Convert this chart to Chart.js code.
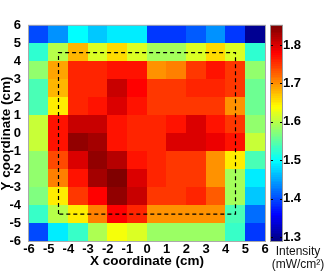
<!DOCTYPE html>
<html>
<head>
<meta charset="utf-8">
<script src="https://cdn.jsdelivr.net/npm/chart.js@4"></script>
<style>
  html, body { margin: 0; padding: 0; background: #fff; }
</style>
</head>
<body>
<canvas id="heatChart" width="327" height="272"></canvas>
<script>
// cell centres (cm), rows go from top (y = 5.5) to bottom (y = -5.5)
const xCenters = [-5.5, -4.5, -3.5, -2.5, -1.5, -0.5, 0.5, 1.5, 2.5, 3.5, 4.5, 5.5];
const yCenters = [5.5, 4.5, 3.5, 2.5, 1.5, 0.5, -0.5, -1.5, -2.5, -3.5, -4.5, -5.5];

// intensity in mW/cm2, one row per yCenters entry
const intensity = [
  [1.40, 1.44, 1.50, 1.47, 1.49, 1.49, 1.39, 1.39, 1.41, 1.44, 1.39, 1.30],
  [1.525, 1.60, 1.68, 1.62, 1.66, 1.62, 1.59, 1.59, 1.62, 1.66, 1.62, 1.525],
  [1.58, 1.69, 1.76, 1.76, 1.77, 1.77, 1.70, 1.71, 1.75, 1.77, 1.75, 1.58],
  [1.54, 1.68, 1.76, 1.76, 1.81, 1.78, 1.75, 1.75, 1.76, 1.76, 1.75, 1.56],
  [1.54, 1.65, 1.76, 1.77, 1.80, 1.77, 1.75, 1.75, 1.75, 1.75, 1.70, 1.56],
  [1.61, 1.77, 1.81, 1.81, 1.77, 1.76, 1.76, 1.77, 1.80, 1.77, 1.75, 1.58],
  [1.61, 1.77, 1.84, 1.83, 1.77, 1.76, 1.76, 1.80, 1.80, 1.79, 1.77, 1.61],
  [1.58, 1.74, 1.80, 1.84, 1.82, 1.77, 1.76, 1.75, 1.75, 1.70, 1.65, 1.54],
  [1.58, 1.71, 1.77, 1.83, 1.85, 1.80, 1.76, 1.75, 1.75, 1.70, 1.59, 1.49],
  [1.57, 1.65, 1.75, 1.78, 1.84, 1.81, 1.75, 1.75, 1.76, 1.73, 1.59, 1.47],
  [1.53, 1.60, 1.65, 1.71, 1.78, 1.76, 1.70, 1.70, 1.70, 1.70, 1.54, 1.42],
  [1.40, 1.49, 1.53, 1.595, 1.635, 1.62, 1.585, 1.585, 1.585, 1.585, 1.53, 1.39]
];

const axisTicks = [-6, -5, -4, -3, -2, -1, 0, 1, 2, 3, 4, 5, 6];
const cbarTicks = [1.3, 1.4, 1.5, 1.6, 1.7, 1.8];
const cbarMin = 1.29, cbarMax = 1.85;

// dashed square marking the irradiated area
const boxX = [-4.5, -4.5, 4.5, 4.5, -4.5];
const boxY = [-4.5, 4.5, 4.5, -4.5, -4.5];

// matlab "jet" colour map
function jet(v) {
  const t = Math.min(1, Math.max(0, (v - cbarMin) / (cbarMax - cbarMin)));
  const c = (x) => Math.round(255 * Math.min(1, Math.max(0, 1.5 - Math.abs(x))));
  return `rgb(${c(4 * t - 3)},${c(4 * t - 2)},${c(4 * t - 1)})`;
}

const heatmapPlugin = {
  id: "heatmap",
  beforeDatasetsDraw(chart) {
    const { ctx, chartArea } = chart;
    const xs = chart.scales.x, ys = chart.scales.y, cs = chart.scales.y2;
    ctx.save();
    intensity.forEach((row, j) => {
      row.forEach((v, i) => {
        const x0 = xs.getPixelForValue(xCenters[i] - 0.5);
        const x1 = xs.getPixelForValue(xCenters[i] + 0.5);
        const y0 = ys.getPixelForValue(yCenters[j] + 0.5);
        const y1 = ys.getPixelForValue(yCenters[j] - 0.5);
        ctx.fillStyle = jet(v);
        ctx.fillRect(Math.floor(x0), Math.floor(y0), Math.ceil(x1) - Math.floor(x0), Math.ceil(y1) - Math.floor(y0));
      });
    });
    ctx.strokeStyle = "#aaa";
    ctx.lineWidth = 1;
    ctx.strokeRect(chartArea.left - 0.5, chartArea.top - 0.5, chartArea.right - chartArea.left + 1, chartArea.bottom - chartArea.top + 1);

    // colour bar
    const bx = chartArea.right + 6, bw = 11;
    const steps = 120;
    for (let k = 0; k < steps; k++) {
      const a = cbarMin + (cbarMax - cbarMin) * k / steps;
      const b = cbarMin + (cbarMax - cbarMin) * (k + 1) / steps;
      const p0 = cs.getPixelForValue(a), p1 = cs.getPixelForValue(b);
      ctx.fillStyle = jet((a + b) / 2);
      ctx.fillRect(bx, Math.floor(p1), bw, Math.ceil(p0) - Math.floor(p1));
    }
    ctx.strokeStyle = "#999";
    ctx.strokeRect(bx - 0.5, cs.top - 0.5, bw + 1, cs.bottom - cs.top + 1);
    ctx.strokeStyle = "#000";
    cbarTicks.forEach((t) => {
      const p = Math.round(cs.getPixelForValue(t)) + 0.5;
      ctx.beginPath();
      ctx.moveTo(bx, p); ctx.lineTo(bx + 2, p);
      ctx.moveTo(bx + bw - 2, p); ctx.lineTo(bx + bw, p);
      ctx.stroke();
    });

    ctx.fillStyle = "#111";
    ctx.font = "12px 'Liberation Sans', Arial, sans-serif";
    ctx.textAlign = "center";
    ctx.textBaseline = "middle";
    ctx.fillText("Intensity", 298, 252);
    ctx.fillText("(mW/cm²)", 298, 265);
    ctx.restore();
  }
};

const tickFont = { family: "'Liberation Sans', Arial, sans-serif", size: 13, weight: "bold" };
const titleFont = { family: "'Liberation Sans', Arial, sans-serif", size: 13.5, weight: "bold", lineHeight: 1 };

new Chart("heatChart", {
  type: "line",
  data: {
    datasets: [
      {
        data: boxX.map((x, k) => ({ x: x, y: boxY[k] })),
        borderColor: "#000",
        borderWidth: 1.2,
        borderDash: [4, 3],
        pointRadius: 0,
        fill: false,
        tension: 0
      }
    ]
  },
  options: {
    responsive: false,
    animation: false,
    devicePixelRatio: 1,
    layout: { padding: { top: 6, left: 0, right: 0, bottom: 0 } },
    plugins: { legend: { display: false }, tooltip: { enabled: false } },
    scales: {
      x: {
        type: "linear",
        min: -6, max: 6,
        afterBuildTicks: (s) => { s.ticks = axisTicks.map((v) => ({ value: v })); },
        afterFit: (s) => { s.height = 31; },
        ticks: { font: tickFont, color: "#000", padding: 1, autoSkip: false, maxRotation: 0 },
        grid: { display: false, drawTicks: false },
        border: { display: false },
        title: { display: true, text: "X coordinate (cm)", font: titleFont, color: "#000", padding: { top: 0, bottom: 4 } }
      },
      y: {
        type: "linear",
        min: -6, max: 6,
        afterBuildTicks: (s) => { s.ticks = axisTicks.map((v) => ({ value: v })); },
        afterFit: (s) => { s.width = 29; },
        ticks: { font: tickFont, color: "#000", padding: 8, autoSkip: false },
        grid: { display: false, drawTicks: false },
        border: { display: false },
        title: { display: true, text: "Y coordinate (cm)", font: titleFont, color: "#000", padding: { top: 0, bottom: 0 } }
      },
      y2: {
        type: "linear",
        position: "right",
        min: cbarMin, max: cbarMax,
        afterBuildTicks: (s) => { s.ticks = cbarTicks.map((v) => ({ value: v })); },
        afterFit: (s) => { s.width = 62; },
        ticks: { font: tickFont, color: "#000", padding: 18, autoSkip: false, callback: (v) => v.toFixed(1) },
        grid: { display: false, drawTicks: false },
        border: { display: false }
      }
    }
  },
  plugins: [heatmapPlugin]
});
</script>
</body>
</html>
